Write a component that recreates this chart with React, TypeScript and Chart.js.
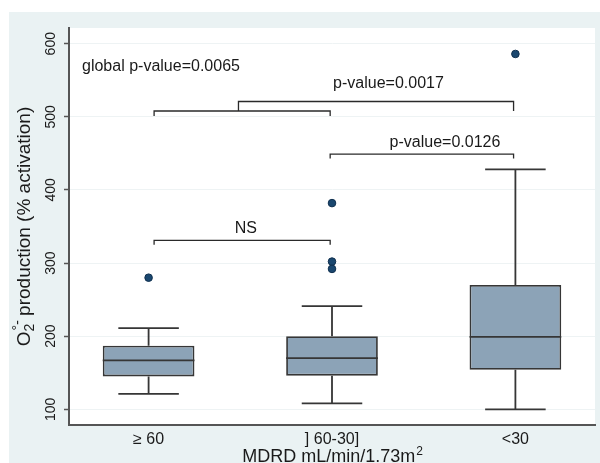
import React, { useEffect, useRef } from 'react';
import { Chart, registerables } from 'chart.js';

Chart.register(...registerables);

// ---- data ----
const categories = ['≥ 60', '] 60-30]', '<30'];
const q1Values = [145, 146, 154];
const medianValues = [167, 170, 199];
const q3Values = [187, 200, 270];
const whiskerLow = [121, 108, 100];
const whiskerHigh = [211, 241, 428];
const outlierValues = [[280], [382, 302, 292], [586]];
const yTickValues = [100, 200, 300, 400, 500, 600];

// comparison brackets (data units)
const bracketStart = [1.03, 1.03, 1.99, 1.49];
const bracketEnd = [1.99, 1.99, 2.99, 2.99];
const bracketLevel = [331, 508, 449, 521];
const bracketDrop = [6, 7, 6, 13];

// annotations (data units)
const annotationTexts = ['global p-value=0.0065', 'NS', 'p-value=0.0017', 'p-value=0.0126'];
const annotationX = [0.637, 1.53, 2.308, 2.616];
const annotationY = [569, 347, 545, 465];
const annotationAlign: CanvasTextAlign[] = ['left', 'center', 'center', 'center'];

const yTitleMain = 'O';
const yTitleSub = '2';
const yTitleSup = '°-';
const yTitleRest = ' production (% activation)';
const xTitleMain = 'MDRD mL/min/1.73m';
const xTitleSup = '2';

// ---- styles ----
const FONT = '"Liberation Sans", Arial, sans-serif';
const BG = '#eaf2f3';
const BOX_FILL = '#8ca3b7';
const LINE = '#363636';
const AXIS = '#555555';
const GRID = '#eef3f4';
const DOT = '#1a476f';
const TEXT = '#1a1a1a';

const overlayPlugin = {
  id: 'boxOverlay',
  beforeDraw(chart: any) {
    const { ctx, chartArea, width, height } = chart;
    ctx.save();
    ctx.fillStyle = '#ffffff';
    ctx.fillRect(0, 0, width, height);
    ctx.fillStyle = BG;
    ctx.fillRect(9, 12, width - 9, height - 12);
    ctx.fillStyle = '#ffffff';
    ctx.fillRect(chartArea.left, chartArea.top, chartArea.right - chartArea.left, chartArea.bottom - chartArea.top);
    ctx.restore();
  },
  beforeDatasetsDraw(chart: any) {
    const { ctx } = chart;
    const xs = chart.scales.x;
    const ys = chart.scales.y;
    const meta = chart.getDatasetMeta(0);
    ctx.save();
    ctx.strokeStyle = LINE;
    ctx.lineWidth = 1.8;
    categories.forEach((_, i) => {
      const cx = xs.getPixelForValue(i + 1);
      const bw = meta.data[i] ? meta.data[i].width : 92;
      const cap = bw * 0.66;
      const yLo = ys.getPixelForValue(whiskerLow[i]);
      const yHi = ys.getPixelForValue(whiskerHigh[i]);
      const yQ1 = ys.getPixelForValue(q1Values[i]);
      const yQ3 = ys.getPixelForValue(q3Values[i]);
      ctx.beginPath();
      ctx.moveTo(cx, yQ3);
      ctx.lineTo(cx, yHi);
      ctx.moveTo(cx - cap / 2, yHi);
      ctx.lineTo(cx + cap / 2, yHi);
      ctx.moveTo(cx, yQ1);
      ctx.lineTo(cx, yLo);
      ctx.moveTo(cx - cap / 2, yLo);
      ctx.lineTo(cx + cap / 2, yLo);
      ctx.stroke();
    });
    ctx.restore();
  },
  afterDatasetsDraw(chart: any) {
    const { ctx } = chart;
    const xs = chart.scales.x;
    const ys = chart.scales.y;
    const meta = chart.getDatasetMeta(0);
    ctx.save();
    // medians
    ctx.strokeStyle = LINE;
    ctx.lineWidth = 1.8;
    categories.forEach((_, i) => {
      const cx = xs.getPixelForValue(i + 1);
      const bw = meta.data[i] ? meta.data[i].width : 92;
      const ym = ys.getPixelForValue(medianValues[i]);
      ctx.beginPath();
      ctx.moveTo(cx - bw / 2, ym);
      ctx.lineTo(cx + bw / 2, ym);
      ctx.stroke();
    });
    // brackets
    ctx.strokeStyle = '#2a2a2a';
    ctx.lineWidth = 1.3;
    bracketStart.forEach((_, i) => {
      const x1 = xs.getPixelForValue(bracketStart[i]);
      const x2 = xs.getPixelForValue(bracketEnd[i]);
      const y = ys.getPixelForValue(bracketLevel[i]);
      const yd = ys.getPixelForValue(bracketLevel[i] - bracketDrop[i]);
      ctx.beginPath();
      ctx.moveTo(x1, yd);
      ctx.lineTo(x1, y);
      ctx.lineTo(x2, y);
      ctx.lineTo(x2, yd);
      ctx.stroke();
    });
    // annotations
    ctx.fillStyle = TEXT;
    ctx.font = `16px ${FONT}`;
    ctx.textBaseline = 'middle';
    annotationTexts.forEach((t, i) => {
      ctx.textAlign = annotationAlign[i];
      ctx.fillText(t, xs.getPixelForValue(annotationX[i]), ys.getPixelForValue(annotationY[i]));
    });
    ctx.restore();
  },
  afterDraw(chart: any) {
    const { ctx, chartArea } = chart;
    const ys = chart.scales.y;
    ctx.save();
    ctx.fillStyle = TEXT;
    // y tick labels, rotated
    ctx.font = `14px ${FONT}`;
    ctx.textAlign = 'center';
    ctx.textBaseline = 'middle';
    yTickValues.forEach((v) => {
      ctx.save();
      ctx.translate(chartArea.left - 18, ys.getPixelForValue(v));
      ctx.rotate(-Math.PI / 2);
      ctx.fillText(String(v), 0, 0);
      ctx.restore();
    });
    // y title (rich text)
    const big = `19px ${FONT}`;
    const small = `14px ${FONT}`;
    ctx.save();
    ctx.translate(25, (chartArea.top + chartArea.bottom) / 2);
    ctx.rotate(-Math.PI / 2);
    ctx.textAlign = 'left';
    ctx.textBaseline = 'middle';
    ctx.font = big;
    const wMain = ctx.measureText(yTitleMain).width;
    const wRest = ctx.measureText(yTitleRest).width;
    ctx.font = small;
    const wSub = ctx.measureText(yTitleSub).width;
    const wSup = ctx.measureText(yTitleSup).width;
    const total = wMain + Math.max(wSub, wSup) + wRest;
    let x0 = -total / 2;
    ctx.font = big;
    ctx.fillText(yTitleMain, x0, 0);
    x0 += wMain;
    ctx.font = small;
    ctx.fillText(yTitleSub, x0, 5);
    ctx.fillText(yTitleSup, x0 + 1, -7);
    x0 += Math.max(wSub, wSup);
    ctx.font = big;
    ctx.fillText(yTitleRest, x0, 0);
    ctx.restore();
    // x title
    ctx.textAlign = 'left';
    ctx.textBaseline = 'alphabetic';
    ctx.font = `18px ${FONT}`;
    const wx = ctx.measureText(xTitleMain).width;
    ctx.font = `12px ${FONT}`;
    const wxs = ctx.measureText(xTitleSup).width;
    const cxT = (chartArea.left + chartArea.right) / 2;
    const sx = cxT - (wx + wxs) / 2;
    ctx.font = `18px ${FONT}`;
    ctx.fillText(xTitleMain, sx, 462);
    ctx.font = `12px ${FONT}`;
    ctx.fillText(xTitleSup, sx + wx + 1, 455);
    ctx.restore();
  },
};

export default function App() {
  const canvasRef = useRef<HTMLCanvasElement | null>(null);

  useEffect(() => {
    const canvas = canvasRef.current;
    if (!canvas) return;
    const chart = new Chart(canvas, {
      type: 'bar',
      data: {
        datasets: [
          {
            type: 'bar',
            data: categories.map((_, i) => ({ x: i + 1, y: [q1Values[i], q3Values[i]] })) as any,
            backgroundColor: BOX_FILL,
            borderColor: LINE,
            borderWidth: 1.8,
            borderSkipped: false,
            barPercentage: 0.5,
            categoryPercentage: 1,
            order: 2,
          } as any,
          {
            type: 'scatter',
            data: outlierValues.flatMap((arr, i) => arr.map((v) => ({ x: i + 1, y: v }))) as any,
            backgroundColor: DOT,
            borderColor: '#10304f',
            borderWidth: 1,
            pointRadius: 3.8,
            order: 1,
          } as any,
        ],
      },
      options: {
        animation: false,
        responsive: false,
        devicePixelRatio: 1,
        layout: { padding: { left: 9, top: 28, right: 2, bottom: 0 } },
        plugins: { legend: { display: false }, tooltip: { enabled: false } },
        scales: {
          x: {
            type: 'linear',
            min: 0.566,
            max: 3.434,
            offset: false,
            afterBuildTicks: (s: any) => {
              s.ticks = categories.map((_, i) => ({ value: i + 1 }));
            },
            afterFit: (s: any) => {
              s.height = 38;
            },
            ticks: {
              callback: (v: any) => categories[Number(v) - 1] ?? '',
              font: { family: FONT, size: 16 },
              color: TEXT,
              padding: 5,
              maxRotation: 0,
              minRotation: 0,
              autoSkip: false,
            },
            grid: { display: false, drawTicks: false },
            border: { display: true, color: AXIS, width: 2 },
          },
          y: {
            type: 'linear',
            min: 78.5,
            max: 621.5,
            afterBuildTicks: (s: any) => {
              s.ticks = yTickValues.map((v) => ({ value: v }));
            },
            afterFit: (s: any) => {
              s.width = 60;
            },
            ticks: { display: false },
            grid: {
              color: GRID,
              lineWidth: 1,
              drawTicks: true,
              tickLength: 5,
              tickColor: AXIS,
              tickWidth: 1.5,
            },
            border: { display: true, color: AXIS, width: 2 },
          },
        },
      } as any,
      plugins: [overlayPlugin],
    });
    return () => chart.destroy();
  }, []);

  return (
    <div style={{ position: 'fixed', left: 0, top: 0, width: 600, height: 463 }}>
      <canvas ref={canvasRef} width={600} height={463} style={{ display: 'block', width: 600, height: 463 }} />
    </div>
  );
}
